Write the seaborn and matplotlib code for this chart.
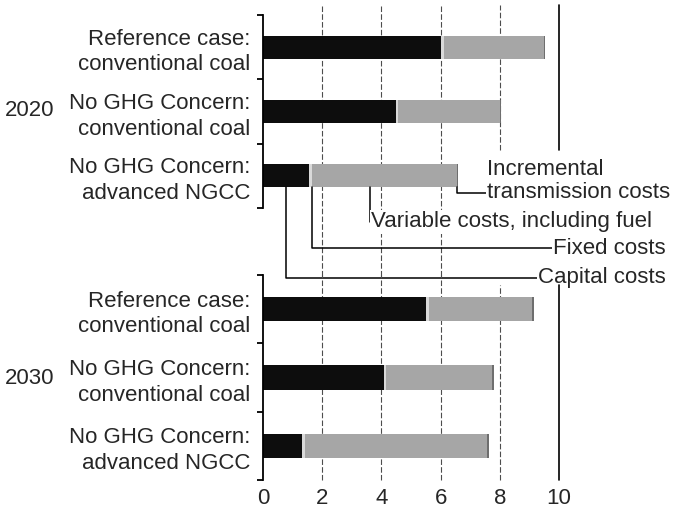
import numpy as np
import pandas as pd
import matplotlib
matplotlib.use("Agg")
import matplotlib.pyplot as plt
import seaborn as sns

# bar categories and cost components (cents / kWh)
cases = ["Reference case:\nconventional coal",
         "No GHG Concern:\nconventional coal",
         "No GHG Concern:\nadvanced NGCC"]
years = ["2020", "2030"]

capital_2020 = [6.03, 4.49, 1.56]
fixed_2020 = [0.08, 0.08, 0.08]
variable_2020 = [3.38, 3.43, 4.90]
transmission_2020 = [0.05, 0.05, 0.05]

capital_2030 = [5.52, 4.08, 1.33]
fixed_2030 = [0.08, 0.08, 0.08]
variable_2030 = [3.49, 3.58, 6.17]
transmission_2030 = [0.05, 0.05, 0.05]

x_ticks = [0, 2, 4, 6, 8, 10]

sns.set_style("white")
plt.rcParams["font.family"] = ["Liberation Sans", "DejaVu Sans"]
FS = 16

colors = {"capital": "#0d0d0d", "fixed": "#d9d9d9",
          "variable": "#a6a6a6", "transmission": "#6e6e6e"}


def draw_panel(ax, capital, fixed, variable, transmission):
    df = pd.DataFrame({"case": cases})
    df["capital"] = capital
    df["fixed"] = df["capital"] + fixed
    df["variable"] = df["fixed"] + variable
    df["transmission"] = df["variable"] + transmission
    # stacked bars: draw the running totals from the longest one down
    for col in ["transmission", "variable", "fixed", "capital"]:
        sns.barplot(data=df, x=col, y="case", color=colors[col], width=0.36,
                    saturation=1, errorbar=None, linewidth=0, ax=ax, zorder=2)
    ax.set_xlabel("")
    ax.set_ylabel("")
    ax.set_xlim(0, 10)
    ax.set_ylim(2.5, -0.5)
    for s in ["top", "right", "bottom"]:
        ax.spines[s].set_visible(False)
    ax.spines["left"].set_color("black")
    ax.spines["left"].set_linewidth(1.3)
    ax.set_yticks([-0.5, 0.5, 1.5, 2.5])
    ax.set_yticklabels([])
    ax.set_yticks([0, 1, 2], minor=True)
    ax.set_yticklabels(cases, minor=True, fontsize=FS, linespacing=1.3)
    ax.tick_params(axis="y", which="major", direction="out", length=4,
                   width=1.3, color="black", left=True)
    ax.tick_params(axis="y", which="minor", length=0, pad=9)
    ax.set_xticks(x_ticks)
    ax.patch.set_alpha(0)
    return df


fig = plt.figure(figsize=(6.75, 5.14), dpi=100)
ax_top = fig.add_axes([263 / 675, 1 - 208 / 514, 296 / 675, 193 / 514])
ax_bot = fig.add_axes([263 / 675, 1 - 480 / 514, 296 / 675, 205 / 514])

df20 = draw_panel(ax_top, capital_2020, fixed_2020, variable_2020, transmission_2020)
df30 = draw_panel(ax_bot, capital_2030, fixed_2030, variable_2030, transmission_2030)

ax_top.tick_params(axis="x", length=0, labelbottom=False)
ax_bot.tick_params(axis="x", length=0, pad=6, labelsize=FS)

# vertical grid, 2-6 run through the gap between panels
grid_kw = dict(color="#4d4d4d", lw=0.8, ls=(0, (5, 2)), zorder=0.5, clip_on=False)
for x in x_ticks[1:4]:
    ax_top.axvline(x, ymin=-0.35, ymax=1.05, **grid_kw)
    ax_bot.axvline(x, ymin=0, ymax=1, **grid_kw)
ax_top.axvline(8, ymin=0.30, ymax=1.05, **grid_kw)
ax_bot.axvline(8, ymin=0, ymax=0.95, **grid_kw)
solid_kw = dict(color="black", lw=1.2, zorder=0.5, clip_on=False)
ax_top.axvline(10, ymin=0.30, ymax=1.05, **solid_kw)
ax_bot.axvline(10, ymin=0, ymax=0.95, **solid_kw)

# year labels
fig.text(5 / 675, 1 - 110 / 514, years[0], fontsize=FS, va="center", ha="left")
fig.text(5 / 675, 1 - 378 / 514, years[1], fontsize=FS, va="center", ha="left")

# leader-line legend hung off the 2020 NGCC bar
row = 2
bar_bottom = row + 0.18
box = dict(facecolor="white", edgecolor="none", pad=1)
line_kw = dict(arrowstyle="-", color="black", lw=1.1, shrinkA=0, shrinkB=0,
               connectionstyle="angle,angleA=0,angleB=90,rad=0")

leaders = [
    ("Incremental\ntransmission costs", df20["transmission"][row] - 0.05,
     (487, 181), "left", (0, 0.22)),
    ("Variable costs, including fuel", 3.6, (371, 222), "left", (0, 0.5)),
    ("Fixed costs", (df20["capital"][row] + df20["fixed"][row]) / 2 + 0.05,
     (666, 248), "right", (0, 0.5)),
    ("Capital costs", df20["capital"][row] / 2, (666, 278), "right", (0, 0.5)),
]
for label, lx, (px, py), ha, rel in leaders:
    ax_top.annotate(label, xy=(lx, bar_bottom), xycoords="data",
                    xytext=(px / 675, 1 - py / 514), textcoords="figure fraction",
                    ha=ha, va="center", fontsize=FS, linespacing=1.1,
                    bbox=box, annotation_clip=False, zorder=5,
                    arrowprops=dict(relpos=rel, **line_kw))

plt.savefig("out.png", dpi=100)
plt.close()
